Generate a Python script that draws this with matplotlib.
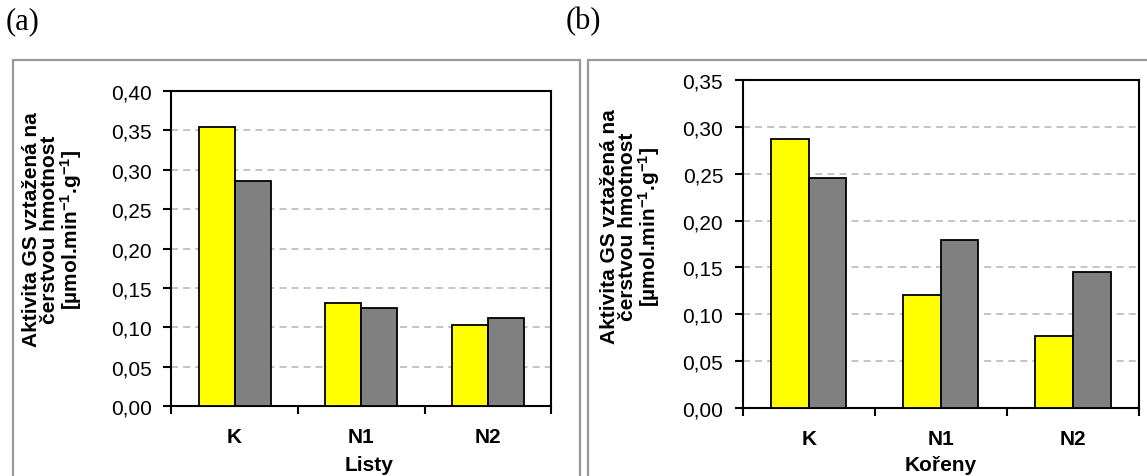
import matplotlib
matplotlib.use("Agg")
import matplotlib.pyplot as plt
from matplotlib.patches import Rectangle

# Data: GS activity per fresh weight [µmol.min-1.g-1]
categories = ["K", "N1", "N2"]
listy_yellow = [0.354, 0.131, 0.103]
listy_grey = [0.286, 0.125, 0.112]
koreny_yellow = [0.287, 0.121, 0.077]
koreny_grey = [0.245, 0.179, 0.145]
listy_ticks = [0.00, 0.05, 0.10, 0.15, 0.20, 0.25, 0.30, 0.35, 0.40]
koreny_ticks = [0.00, 0.05, 0.10, 0.15, 0.20, 0.25, 0.30, 0.35]

plt.rcParams["font.family"] = ["Liberation Sans", "DejaVu Sans"]
plt.rcParams["mathtext.fontset"] = "custom"
plt.rcParams["mathtext.rm"] = "Liberation Sans"
plt.rcParams["mathtext.bf"] = "Liberation Sans:bold"
plt.rcParams["mathtext.default"] = "bf"

W, H = 1147, 477
fig = plt.figure(figsize=(W / 100, H / 100), dpi=100)


def fx(px):
    return px / W


def fy(py):
    return 1 - py / H


ylabel_text = ("Aktivita GS vztažená na\nčerstvou hmotnost\n"
               r"[µmol.min$^{-1}$.g$^{-1}$]")

TICK_FS = 15
CAT_FS = 15
LAB_FS = 15
BAR_W = 0.285


def panel(rect, yellow, grey, ticks, xlabel, xlabel_x, ylabel_x, ylabel_y):
    ax = fig.add_axes(rect)
    x = list(range(len(categories)))
    ax.bar([i - BAR_W / 2 for i in x], yellow, width=BAR_W, color="#FFFF00",
           edgecolor="black", linewidth=1.3, zorder=3)
    ax.bar([i + BAR_W / 2 for i in x], grey, width=BAR_W, color="#808080",
           edgecolor="black", linewidth=1.3, zorder=3)
    ax.set_xlim(-0.5, len(categories) - 0.5)
    ax.set_ylim(ticks[0], ticks[-1])
    ax.set_yticks(ticks)
    ax.set_yticklabels([f"{t:.2f}".replace(".", ",") for t in ticks],
                       fontsize=TICK_FS)
    # category boundaries carry the ticks, centres carry the labels
    ax.set_xticks([i - 0.5 for i in range(len(categories) + 1)])
    ax.set_xticklabels([])
    ax.set_xticks(x, minor=True)
    ax.set_xticklabels(categories, minor=True, fontsize=CAT_FS,
                       fontweight="bold")
    ax.tick_params(axis="x", which="minor", length=0, pad=15)
    ax.tick_params(axis="both", which="major", direction="out", length=6,
                   width=1.5, color="black")
    ax.tick_params(axis="y", pad=8)
    for s in ax.spines.values():
        s.set_linewidth(1.5)
        s.set_color("black")
    ax.set_axisbelow(True)
    ax.yaxis.grid(True, color="#c4c4c4", linewidth=1.4,
                  linestyle=(0, (3.6, 2.6)))
    fig.text(xlabel_x, fy(466), xlabel, ha="center", va="center",
             fontsize=CAT_FS, fontweight="bold")
    fig.text(ylabel_x, ylabel_y, ylabel_text, rotation=90, ha="center",
             va="center", multialignment="center", fontsize=LAB_FS,
             fontweight="bold", linespacing=0.95)
    return ax


panel([fx(171.3), fy(407.3), fx(551.2 - 171.3), (407.3 - 92.0) / H],
      listy_yellow, listy_grey, listy_ticks, "Listy", fx(369), fx(53), fy(230))
panel([fx(742.6), fy(409.3), fx(1139 - 742.6), (409.3 - 80.7) / H],
      koreny_yellow, koreny_grey, koreny_ticks, "Kořeny", fx(941), fx(631),
      fy(227))

# panel frames
frame_kw = dict(fill=False, edgecolor="#999999", linewidth=1.6,
                transform=fig.transFigure, clip_on=False)
fig.patches.append(Rectangle((fx(13), fy(500)), fx(580 - 13), (500 - 61) / H,
                             **frame_kw))
fig.patches.append(Rectangle((fx(588), fy(500)), fx(1200 - 588), (500 - 61) / H,
                             **frame_kw))

fig.text(fx(6), fy(22), "(a)", ha="left", va="center", fontsize=22,
         family="Liberation Serif")
fig.text(fx(566), fy(22), "(b)", ha="left", va="center", fontsize=22,
         family="Liberation Serif")

fig.savefig("out.png", dpi=100)
